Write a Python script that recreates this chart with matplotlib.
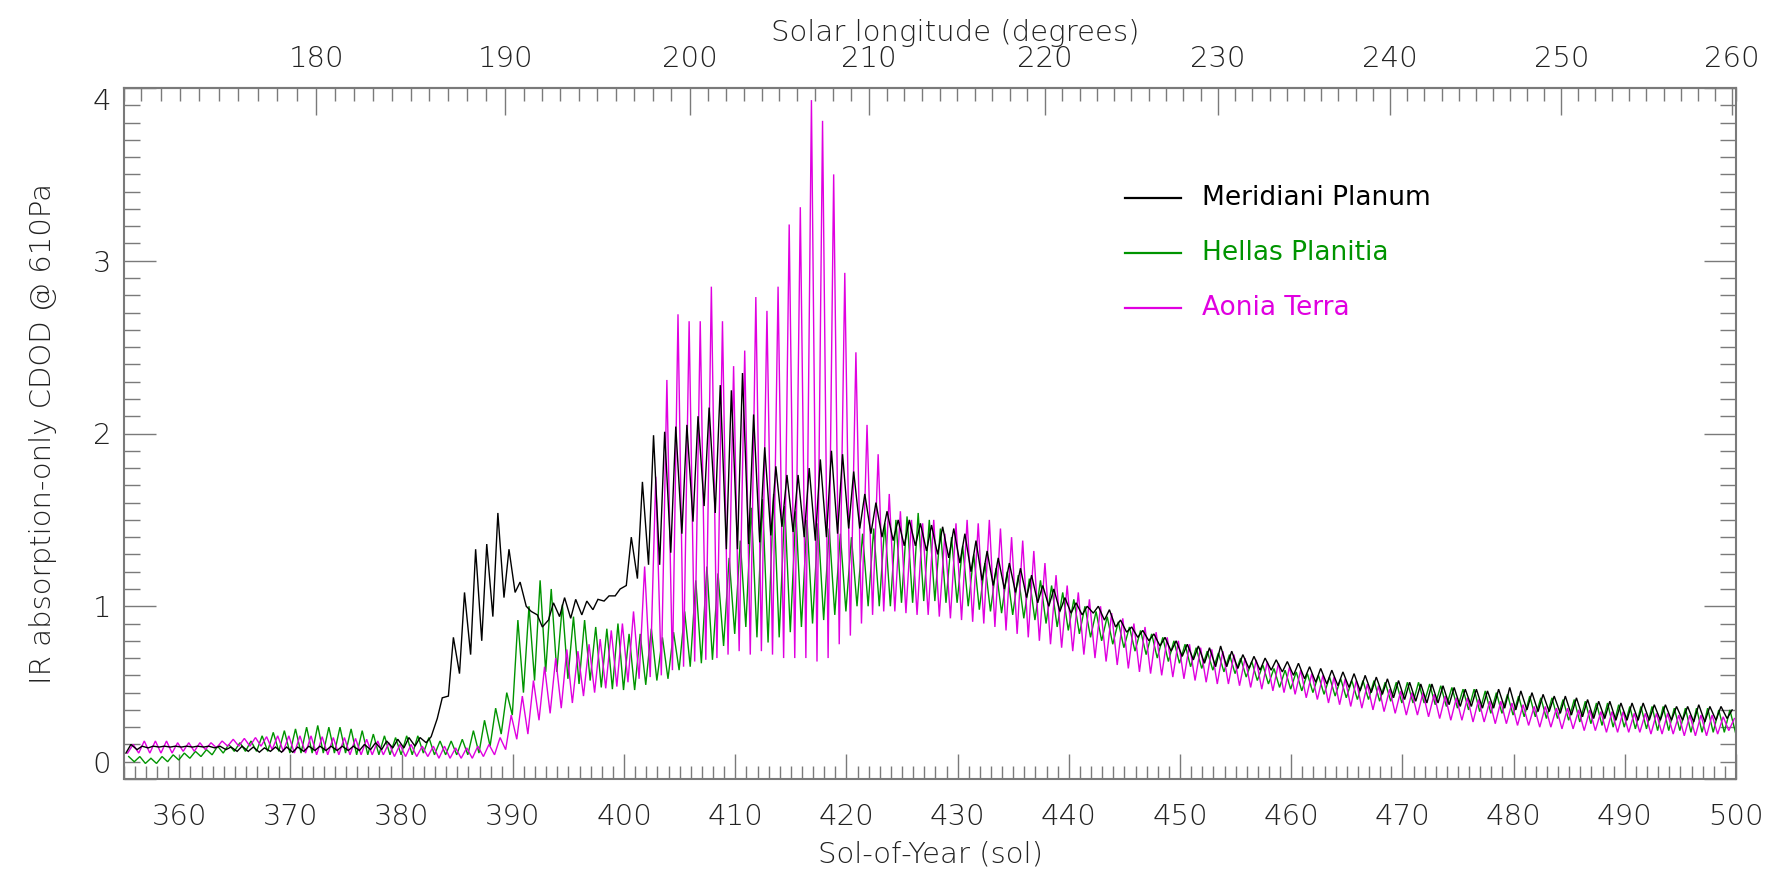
import numpy as np
import matplotlib
matplotlib.use("Agg")
import matplotlib.pyplot as plt
from matplotlib.ticker import MultipleLocator, FixedLocator

# ---------------- data ----------------
sols = np.arange(355, 500)  # sol-of-year, one diurnal cycle per sol

# Meridiani Planum (black): value at the daily maximum and daily minimum
meridiani_peak = [
    .20, .19, .19, .19, .19, .19, .19, .19, .19, .185,
    .19, .185, .18, .185, .185, .185, .19, .19, .19, .19,
    .19, .20, .21, .22, .23, .24, .24, .245, .47, .82,
    1.08, 1.33, 1.36, 1.54, 1.33, 1.14, .97, .88, 1.02, 1.05,
    1.04, 1.03, 1.04, 1.06, 1.10, 1.40, 1.72, 1.99, 2.01, 2.04,
    2.05, 2.10, 2.15, 2.28, 2.25, 2.35, 2.11, 1.92, 1.81, 1.76,
    1.76, 1.80, 1.85, 1.90, 1.88, 1.78, 1.65, 1.60, 1.55, 1.50,
    1.50, 1.48, 1.47, 1.46, 1.45, 1.42, 1.38, 1.32, 1.28, 1.25,
    1.22, 1.18, 1.12, 1.10, 1.05, 1.02, 1.00, 1.00, .98, .92,
    .88, .86, .84, .82, .80, .78, .77, .76, .77, .74,
    .72, .71, .70, .69, .68, .67, .65, .64, .63, .62,
    .61, .60, .59, .58, .57, .56, .55, .55, .54, .53,
    .52, .52, .51, .52, .53, .51, .50, .49, .48, .48,
    .47, .46, .45, .45, .44, .44, .44, .43, .43, .42,
    .42, .43, .42, .42, .40]
meridiani_trough = [
    .15, .17, .18, .185, .185, .185, .185, .185, .18, .17,
    .16, .16, .155, .16, .155, .155, .16, .165, .165, .165,
    .165, .165, .17, .17, .18, .18, .19, .21, .35, .48,
    .61, .72, .80, .94, 1.05, 1.08, 1.00, .95, .92, .94,
    .93, .95, .98, 1.03, 1.06, 1.12, 1.16, 1.24, 1.24, 1.31,
    1.42, 1.49, 1.58, 1.54, 1.33, 1.33, 1.36, 1.37, 1.41, 1.46,
    1.43, 1.40, 1.38, 1.40, 1.42, 1.45, 1.45, 1.42, 1.40, 1.38,
    1.35, 1.35, 1.32, 1.30, 1.28, 1.25, 1.20, 1.15, 1.12, 1.10,
    1.08, 1.05, 1.02, 1.00, .97, .96, .95, .96, .92, .88,
    .85, .82, .80, .77, .74, .71, .69, .67, .65, .65,
    .64, .64, .63, .63, .62, .60, .58, .56, .55, .54,
    .53, .51, .50, .49, .47, .46, .45, .44, .44, .43,
    .42, .42, .41, .41, .41, .40, .40, .39, .39, .38,
    .37, .36, .35, .35, .34, .34, .34, .34, .34, .34,
    .34, .33, .33, .34, .35]

# Hellas Planitia (green)
hellas_peak = [
    .13, .13, .12, .13, .14, .15, .16, .17, .19, .20,
    .21, .22, .25, .27, .28, .29, .30, .31, .30, .30,
    .29, .28, .26, .25, .24, .25, .25, .24, .22, .22,
    .23, .28, .34, .41, .50, .92, 1.00, 1.15, 1.10, 1.01,
    .94, .92, .88, .87, .90, .84, .84, .87, .82, .85,
    .97, 1.15, 1.23, 1.19, 1.28, 1.38, 1.57, 1.62, 1.65, 1.58,
    1.55, 1.50, 1.48, 1.45, 1.42, 1.40, 1.42, 1.45, 1.48, 1.50,
    1.52, 1.54, 1.50, 1.45, 1.40, 1.35, 1.30, 1.25, 1.22, 1.20,
    1.18, 1.16, 1.15, 1.12, 1.08, 1.04, 1.00, .97, .94, .91,
    .88, .86, .84, .82, .80, .78, .76, .74, .73, .72,
    .70, .68, .66, .64, .63, .62, .61, .60, .59, .58,
    .57, .57, .57, .56, .56, .56, .56, .55, .54, .53,
    .52, .52, .51, .50, .49, .48, .48, .47, .47, .46,
    .46, .45, .44, .44, .43, .42, .42, .42, .42, .41,
    .41, .41, .41, .40, .40]
hellas_trough = [
    .10, .09, .09, .10, .11, .12, .13, .14, .15, .16,
    .16, .16, .16, .16, .15, .15, .15, .15, .15, .15,
    .14, .14, .14, .14, .14, .14, .15, .14, .14, .14,
    .14, .15, .19, .26, .37, .50, .57, .62, .62, .58,
    .55, .57, .53, .52, .515, .515, .545, .57, .58, .63,
    .65, .67, .69, .77, .84, .88, .82, .79, .82, .85,
    .88, .90, .92, .95, .97, 1.00, 1.00, 1.00, 1.00, 1.02,
    1.02, 1.03, 1.03, 1.02, 1.02, 1.00, .98, .97, .96, .95,
    .93, .92, .90, .88, .86, .84, .82, .80, .78, .76,
    .74, .72, .70, .68, .67, .65, .64, .63, .62, .61,
    .59, .57, .55, .53, .52, .51, .50, .49, .48, .47,
    .46, .46, .45, .45, .44, .44, .44, .43, .42, .41,
    .40, .39, .38, .38, .37, .36, .36, .35, .35, .34,
    .33, .32, .31, .30, .30, .29, .29, .28, .28, .28,
    .27, .27, .27, .27, .27]

# Aonia Terra (magenta)
aonia_peak = [
    .20, .22, .22, .22, .21, .21, .21, .21, .22, .23,
    .235, .24, .245, .25, .25, .25, .25, .245, .24, .24,
    .235, .23, .22, .21, .20, .20, .19, .19, .19, .18,
    .18, .19, .20, .24, .37, .48, .57, .65, .70, .75,
    .74, .78, .81, .86, .90, .97, 1.23, 1.75, 2.31, 2.69,
    2.65, 2.65, 2.85, 2.65, 2.39, 2.48, 2.79, 2.71, 2.85, 3.21,
    3.31, 3.93, 3.81, 3.50, 2.93, 2.47, 2.05, 1.88, 1.65, 1.55,
    1.50, 1.48, 1.50, 1.42, 1.48, 1.50, 1.48, 1.50, 1.45, 1.40,
    1.38, 1.32, 1.25, 1.18, 1.12, 1.08, 1.04, 1.00, .96, .93,
    .90, .88, .85, .82, .80, .78, .76, .75, .74, .72,
    .70, .69, .68, .67, .65, .63, .61, .60, .59, .58,
    .57, .55, .54, .52, .51, .50, .50, .49, .48, .47,
    .47, .46, .45, .45, .44, .43, .42, .42, .41, .41,
    .40, .40, .39, .39, .39, .38, .38, .38, .38, .37,
    .37, .37, .37, .36, .35]
aonia_trough = [
    .15, .15, .15, .15, .15, .16, .16, .17, .18, .19,
    .19, .19, .19, .17, .16, .15, .15, .14, .14, .14,
    .14, .14, .14, .14, .13, .13, .13, .13, .12, .12,
    .12, .12, .13, .14, .17, .23, .26, .34, .38, .41,
    .44, .48, .50, .525, .535, .56, .58, .59, .60, .63,
    .65, .68, .69, .70, .72, .74, .72, .74, .72, .70,
    .70, .70, .68, .70, .78, .83, .90, .95, .97, .97,
    .96, .95, .95, .94, .93, .92, .91, .90, .88, .86,
    .84, .82, .80, .78, .76, .74, .72, .70, .68, .66,
    .64, .62, .61, .60, .59, .58, .57, .56, .55, .55,
    .54, .53, .52, .51, .50, .49, .47, .46, .44, .43,
    .42, .41, .40, .39, .38, .37, .37, .36, .35, .34,
    .34, .33, .33, .32, .32, .31, .31, .30, .30, .29,
    .29, .28, .28, .27, .27, .27, .27, .26, .26, .26,
    .25, .25, .25, .26, .28]

series_names = ["Meridiani Planum", "Hellas Planitia", "Aonia Terra"]

# Solar longitude (top axis) labels and the sol where each one sits
ls_anchor_sol = [355.0, 372.3, 389.3, 405.9, 422.05, 437.85, 453.4, 468.9, 484.3, 499.6, 500.0]
ls_anchor_val = [170.1, 180, 190, 200, 210, 220, 230, 240, 250, 260, 260.26]
ls_ticks = [180, 190, 200, 210, 220, 230, 240, 250, 260]

# ---------------- style ----------------
plt.rcParams['font.family'] = ['DejaVu Sans']
TXT = '#222222'
AXC = '#7a7a7a'
COL = {"Meridiani Planum": '#000000', "Hellas Planitia": '#009400', "Aonia Terra": '#e000e0'}
# time of day (fraction of sol) of the daily max / min for each site
PHASE = {"Meridiani Planum": (0.65, 0.20), "Hellas Planitia": (0.45, 0.95), "Aonia Terra": (0.85, 0.35)}
FS_TICK = 21
FS_LEG = 19
W = 200  # light weight if available

W_PX, H_PX = 1771, 886
fig = plt.figure(figsize=(W_PX / 100, H_PX / 100), dpi=100)
L, R, T, B = 123.7, 1736, 88, 779
ax = fig.add_axes([L / W_PX, 1 - B / H_PX, (R - L) / W_PX, (B - T) / H_PX])


def diurnal(peak, trough, ph_hi, ph_lo):
    xs = np.concatenate([sols + ph_hi, sols + ph_lo])
    ys = np.concatenate([np.asarray(peak), np.asarray(trough)])
    order = np.argsort(xs)
    return xs[order], ys[order]


data = {
    "Meridiani Planum": (meridiani_peak, meridiani_trough),
    "Hellas Planitia": (hellas_peak, hellas_trough),
    "Aonia Terra": (aonia_peak, aonia_trough),
}
for name in ["Hellas Planitia", "Aonia Terra", "Meridiani Planum"]:
    pk, tr = data[name]
    xs, ys = diurnal(pk, tr, *PHASE[name])
    ax.plot(xs, ys, color=COL[name], lw=1.0, solid_joinstyle='miter')

ax.set_xlim(355, 500)
ax.set_ylim(0, 4)

for sp in ax.spines.values():
    sp.set_color(AXC)
    sp.set_linewidth(1.5)

ax.xaxis.set_major_locator(MultipleLocator(10))
ax.xaxis.set_minor_locator(MultipleLocator(1))
ax.yaxis.set_major_locator(MultipleLocator(1))
ax.yaxis.set_minor_locator(MultipleLocator(0.1))
ax.tick_params(axis='x', which='major', direction='in', length=18, width=1.0, color=AXC,
               labelsize=FS_TICK, labelcolor=TXT, pad=17, top=False)
ax.tick_params(axis='x', which='minor', direction='in', length=9.4, width=1.0, color=AXC, top=False)
ax.tick_params(axis='y', which='major', direction='in', length=23, width=1.0, color=AXC,
               labelsize=FS_TICK, labelcolor=TXT, pad=9, right=True)
ax.tick_params(axis='y', which='minor', direction='in', length=11.5, width=1.0, color=AXC, right=True)
for lab in ax.get_xticklabels() + ax.get_yticklabels():
    lab.set_fontweight(W)
fig.canvas.draw()
for lab in ax.get_yticklabels():
    if lab.get_text() == '0':
        lab.set_va('bottom')
    elif lab.get_text() == '4':
        lab.set_va('top')


def sol2ls(s):
    return np.interp(s, ls_anchor_sol, ls_anchor_val)


def ls2sol(v):
    return np.interp(v, ls_anchor_val, ls_anchor_sol)


sec = ax.secondary_xaxis('top', functions=(sol2ls, ls2sol))
sec.xaxis.set_major_locator(FixedLocator(ls_ticks))
sec.xaxis.set_minor_locator(MultipleLocator(1))
sec.tick_params(which='major', direction='in', length=19.4, width=1.0, color=AXC,
                labelsize=FS_TICK, labelcolor=TXT, pad=10.5)
sec.tick_params(which='minor', direction='in', length=9.4, width=1.0, color=AXC)
sec.spines['top'].set_color(AXC)
sec.spines['top'].set_linewidth(1.5)
for lab in sec.get_xticklabels():
    lab.set_fontweight(W)

# axis titles
fig.text(930 / W_PX, 1 - 855 / H_PX, "Sol-of-Year (sol)", fontsize=FS_TICK, color=TXT,
         ha='center', va='center', fontweight=W)
fig.text(955 / W_PX, 1 - 33 / H_PX, "Solar longitude (degrees)", fontsize=FS_TICK, color=TXT,
         ha='center', va='center', fontweight=W)
fig.text(43 / W_PX, 1 - 433.5 / H_PX, "IR absorption-only CDOD @ 610Pa", fontsize=FS_TICK,
         color=TXT, ha='center', va='center', rotation=90, fontweight=W)

# legend (drawn in axes fractions)
leg_y = [0.8404, 0.7608, 0.6812]
for name, yy in zip(series_names, leg_y):
    ax.plot([0.621, 0.6555], [yy, yy], transform=ax.transAxes, color=COL[name], lw=1.6,
            clip_on=False)
    ax.text(0.6686, yy, name, transform=ax.transAxes, color=COL[name], fontsize=FS_LEG,
            ha='left', va='center')

fig.savefig("out.png", dpi=100)
